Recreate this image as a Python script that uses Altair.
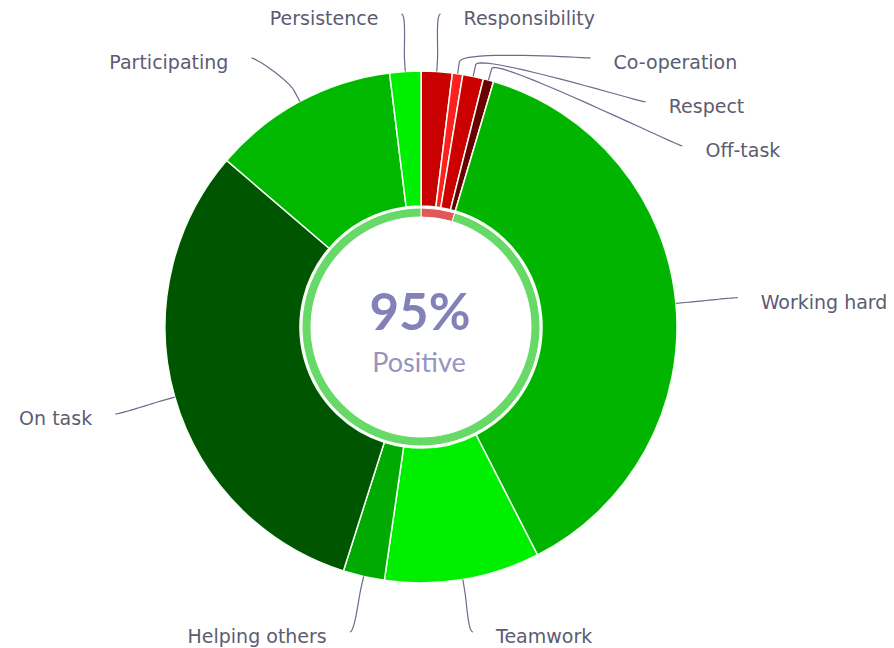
import math
import pandas as pd
import altair as alt

# ---- data (clockwise from 12 o'clock) ----
labels = ["Responsibility", "Co-operation", "Respect", "Off-task", "Working hard",
          "Teamwork", "Helping others", "On task", "Participating", "Persistence"]
counts = [3, 1, 2, 1, 58, 15, 4, 48, 18, 3]
is_positive = [False, False, False, False, True, True, True, True, True, True]
slice_colors = ["#c80000", "#ff1f1f", "#cc0000", "#6b0000", "#00b400",
                "#00ee00", "#00aa00", "#005600", "#00b800", "#00ee00"]
ring_parts = ["Negative", "Positive"]
ring_colors = ["#e05858", "#66d966"]
center_caption = "Positive"

# ---- layout ----
W, H = 878, 640
CX, CY = 413, 319
R_OUT, R_IN = 256, 121
RING_OUT, RING_IN = 119, 110
L = 318          # label radius
BREAK = 12       # connector break offset
SPACING = 44
YMIN, YMAX = 6, 624
TEXT_GAP = 23

total = sum(counts)
neg = sum(c for c, p in zip(counts, is_positive) if not p)
pos = total - neg
pct_text = f"{int(100 * pos / total)}%"

# mid angles
mids = []
acc = 0
for c in counts:
    mids.append((acc + c / 2) / total * 2 * math.pi)
    acc += c

# label placement
info = []
for i, th in enumerate(mids):
    side = 1 if th < math.pi else -1
    ny = CY - L * math.cos(th)
    y = min(max(ny, YMIN), YMAX)
    info.append({"i": i, "side": side, "th": th, "y": y, "moved": False})

for side in (1, -1):
    group = sorted([d for d in info if d["side"] == side], key=lambda d: d["y"])
    prev = None
    for d in group:
        if prev is not None and d["y"] < prev + SPACING:
            d["y"] = prev + SPACING
            d["moved"] = True
        prev = d["y"]

line_rows = []
text_rows = []
for d in info:
    th, side, y = d["th"], d["side"], d["y"]
    if d["moved"]:
        x = CX + side * math.sqrt(max(L * L - (y - CY) ** 2, 0))
    else:
        x = CX + L * math.sin(th)
    tx, ty = CX + R_OUT * math.sin(th), CY - R_OUT * math.cos(th)
    bx, by = CX + (R_OUT + BREAK) * math.sin(th), CY - (R_OUT + BREAK) * math.cos(th)
    p0 = (x, y)
    c1 = (x - 5 * side, y)
    c2 = (2 * bx - tx, 2 * by - ty)
    p3 = (bx, by)
    k = 0
    for s in range(21):
        t = s / 20
        u = 1 - t
        px = u**3 * p0[0] + 3 * u * u * t * c1[0] + 3 * u * t * t * c2[0] + t**3 * p3[0]
        py = u**3 * p0[1] + 3 * u * u * t * c1[1] + 3 * u * t * t * c2[1] + t**3 * p3[1]
        line_rows.append({"label": labels[d["i"]], "k": k, "x": px, "y": py})
        k += 1
    line_rows.append({"label": labels[d["i"]], "k": k, "x": tx, "y": ty})
    text_rows.append({"label": labels[d["i"]], "x": x + side * TEXT_GAP, "y": y + 5,
                      "side": "right" if side == 1 else "left"})

slices = pd.DataFrame({"label": labels, "count": counts, "idx": list(range(len(labels))),
                       "col": slice_colors})
ring = pd.DataFrame({"part": ring_parts, "count": [neg, pos], "idx": [0, 1], "col": ring_colors})
lines_df = pd.DataFrame(line_rows)
texts_df = pd.DataFrame(text_rows)

xs = alt.Scale(domain=[0, W], nice=False, zero=False)
ys = alt.Scale(domain=[0, H], reverse=True, nice=False, zero=False)

donut = alt.Chart(slices).mark_arc(outerRadius=R_OUT, innerRadius=R_IN, stroke="#f4fff4",
                                   strokeWidth=1.5).encode(
    theta=alt.Theta("count:Q", stack=True),
    color=alt.Color("col:N", scale=None),
    order=alt.Order("idx:Q"),
    x=alt.value(CX), y=alt.value(CY),
)

ring_chart = alt.Chart(ring).mark_arc(outerRadius=RING_OUT, innerRadius=RING_IN, stroke="white",
                                      strokeWidth=1).encode(
    theta=alt.Theta("count:Q", stack=True),
    color=alt.Color("col:N", scale=None),
    order=alt.Order("idx:Q"),
    x=alt.value(CX), y=alt.value(CY),
)

connectors = alt.Chart(lines_df).mark_line(color="#6b6b8c", strokeWidth=1.2).encode(
    x=alt.X("x:Q", scale=xs, axis=None),
    y=alt.Y("y:Q", scale=ys, axis=None),
    detail="label:N",
    order="k:Q",
)

lab_font = dict(font="DejaVu Sans", fontSize=19, color="#5c5c72", baseline="middle")
right_text = alt.Chart(texts_df).transform_filter(alt.datum.side == "right").mark_text(
    align="left", **lab_font).encode(
    x=alt.X("x:Q", scale=xs, axis=None), y=alt.Y("y:Q", scale=ys, axis=None), text="label:N")
left_text = alt.Chart(texts_df).transform_filter(alt.datum.side == "left").mark_text(
    align="right", **lab_font).encode(
    x=alt.X("x:Q", scale=xs, axis=None), y=alt.Y("y:Q", scale=ys, axis=None), text="label:N")

center = pd.DataFrame({"t": [pct_text], "c": [center_caption]})
pct = alt.Chart(center).mark_text(font="Lato", fontWeight="bold", fontSize=51, color="#8282b8",
                                  align="center", baseline="middle").encode(
    x=alt.value(CX - 1), y=alt.value(CY - 12), text="t:N")
cap = alt.Chart(center).mark_text(font="Lato", fontSize=27, color="#9494c0",
                                  align="center", baseline="middle").encode(
    x=alt.value(CX - 2), y=alt.value(CY + 37), text="c:N")

chart = alt.layer(donut, ring_chart, connectors, right_text, left_text, pct, cap).properties(
    width=W, height=H, padding=0, autosize=alt.AutoSizeParams(type="none")
).configure_view(stroke=None)

chart.save("out.html", embed_options={"renderer": "svg", "actions": False})
